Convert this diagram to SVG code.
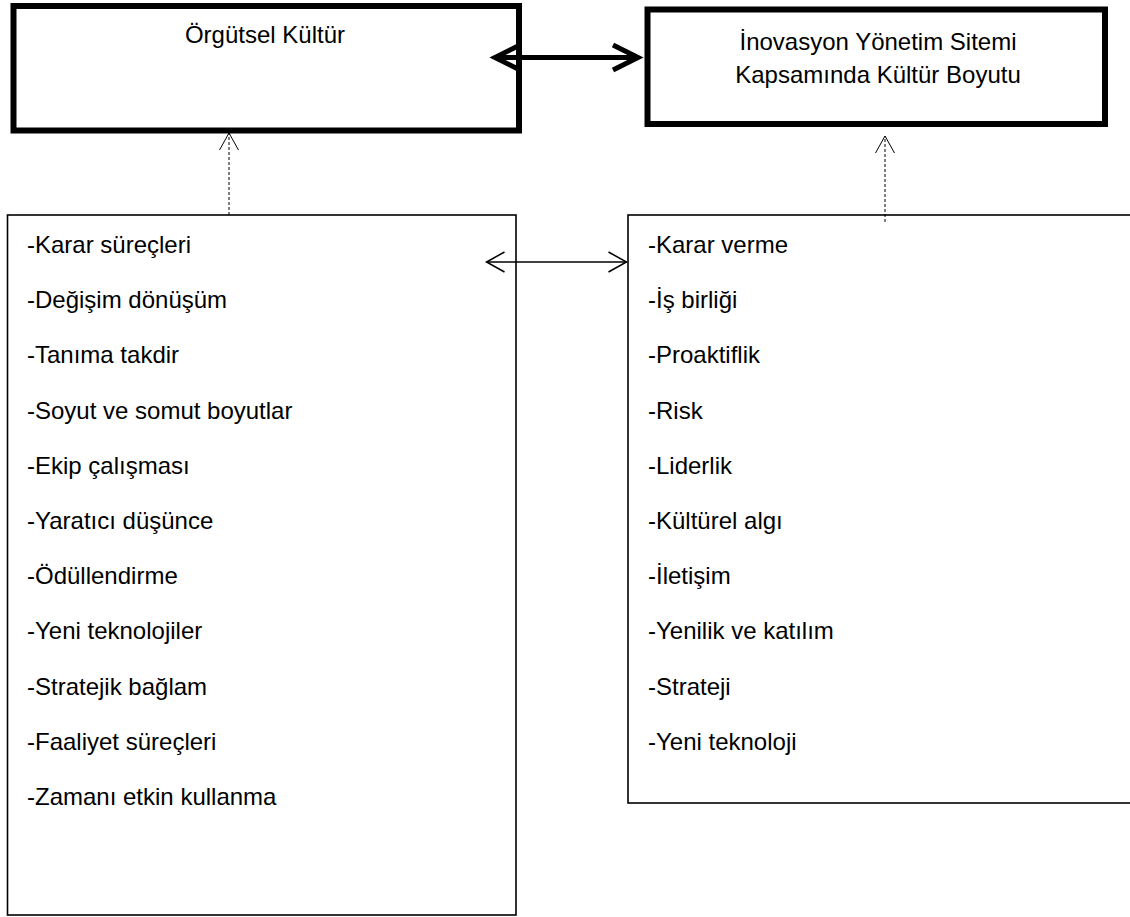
<svg xmlns="http://www.w3.org/2000/svg" width="1130" height="917" viewBox="0 0 1130 917">
<style>
text { font-family: "Liberation Sans", Arial, sans-serif; font-size: 24px; fill: #000; }
.thick { fill: #fff; stroke: #000; stroke-width: 6; }
.thin { fill: #fff; stroke: #000; stroke-width: 1.6; }
.c-thick { stroke: #000; stroke-width: 5; fill: none; }
.c-thin { stroke: #000; stroke-width: 1.5; fill: none; }
.c-dash { stroke: #000; stroke-width: 1; stroke-dasharray: 3 2; fill: none; }
.mid { text-anchor: middle; }
</style>
<defs>
<marker id="headThick" markerUnits="userSpaceOnUse" viewBox="-35 -20 45 40" refX="0" refY="0" markerWidth="45" markerHeight="40" orient="auto-start-reverse">
<path d="M -25 -12.5 L 0 0 L -25 12.5" fill="none" stroke="#000" stroke-width="5"/>
</marker>
<marker id="headThin" markerUnits="userSpaceOnUse" viewBox="-25 -15 30 30" refX="0" refY="0" markerWidth="30" markerHeight="30" orient="auto-start-reverse">
<path d="M -18 -10 L 0 0 L -18 10" fill="none" stroke="#000" stroke-width="1.5"/>
</marker>
<marker id="headOpen" markerUnits="userSpaceOnUse" viewBox="-25 -15 30 30" refX="0" refY="0" markerWidth="30" markerHeight="30" orient="auto">
<path d="M -17 -9.5 L 0 0 L -17 9.5" fill="none" stroke="#000" stroke-width="1"/>
</marker>
</defs>

<g id="node-orgutsel-kultur">
<rect class="thick" x="13.5" y="6" width="505.5" height="124.5"/>
<text class="mid" x="265" y="43">Örgütsel Kültür</text>
</g>

<g id="node-inovasyon">
<rect class="thick" x="647.5" y="9.5" width="457.5" height="114.5"/>
<text class="mid" x="878" y="50">İnovasyon Yönetim Sitemi</text>
<text class="mid" x="878" y="83">Kapsamında Kültür Boyutu</text>
</g>

<g id="node-left-list">
<rect class="thin" x="7.5" y="215" width="508.5" height="700"/>
<text x="27" y="253">-Karar süreçleri</text>
<text x="27" y="308.2">-Değişim dönüşüm</text>
<text x="27" y="363.4">-Tanıma takdir</text>
<text x="27" y="418.6">-Soyut ve somut boyutlar</text>
<text x="27" y="473.8">-Ekip çalışması</text>
<text x="27" y="529">-Yaratıcı düşünce</text>
<text x="27" y="584.2">-Ödüllendirme</text>
<text x="27" y="639.4">-Yeni teknolojiler</text>
<text x="27" y="694.6">-Stratejik bağlam</text>
<text x="27" y="749.8">-Faaliyet süreçleri</text>
<text x="27" y="805">-Zamanı etkin kullanma</text>
</g>

<g id="node-right-list">
<rect class="thin" x="628" y="215" width="520" height="588"/>
<text x="648" y="253">-Karar verme</text>
<text x="648" y="308.2">-İş birliği</text>
<text x="648" y="363.4">-Proaktiflik</text>
<text x="648" y="418.6">-Risk</text>
<text x="648" y="473.8">-Liderlik</text>
<text x="648" y="529">-Kültürel algı</text>
<text x="648" y="584.2">-İletişim</text>
<text x="648" y="639.4">-Yenilik ve katılım</text>
<text x="648" y="694.6">-Strateji</text>
<text x="648" y="749.8">-Yeni teknoloji</text>
</g>

<g id="connectors">
<line class="c-thick" x1="495" y1="57.5" x2="638" y2="57.5" marker-start="url(#headThick)" marker-end="url(#headThick)"/>
<line class="c-thin" x1="486.5" y1="262" x2="626.5" y2="262" marker-start="url(#headThin)" marker-end="url(#headThin)"/>
<line class="c-dash" x1="229" y1="215" x2="229" y2="133" marker-end="url(#headOpen)"/>
<line class="c-dash" x1="885" y1="222" x2="885" y2="136" marker-end="url(#headOpen)"/>
</g>
</svg>
